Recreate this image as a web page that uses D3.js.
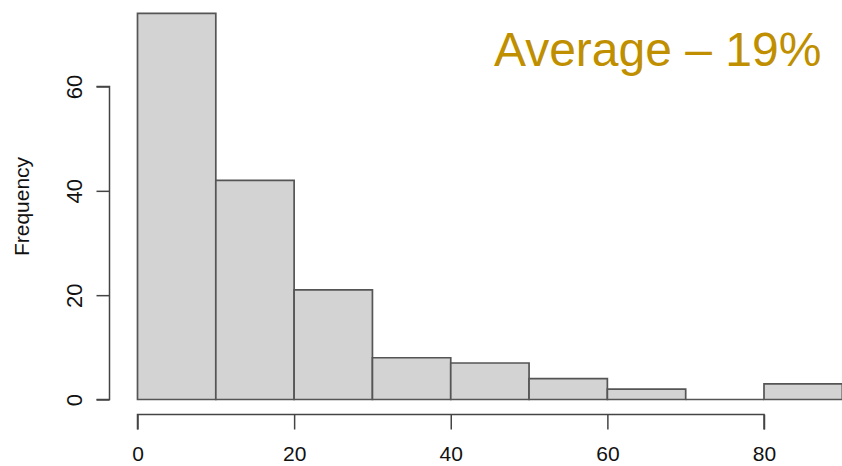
<!DOCTYPE html>
<html>
<head>
<meta charset="utf-8">
<script src="https://cdn.jsdelivr.net/npm/d3@7"></script>
<style>
  html, body { margin: 0; padding: 0; background: #fff; }
  svg { display: block; }
  text { font-family: "Liberation Sans", Arial, Helvetica, sans-serif; }
</style>
</head>
<body>
<svg id="chart" width="842" height="466"></svg>
<script>
// Histogram bins (lower edge, upper edge) and counts
const binStarts = [0, 10, 20, 30, 40, 50, 60, 70, 80];
const binEnds   = [10, 20, 30, 40, 50, 60, 70, 80, 90];
const counts    = [74, 42, 21, 8, 7, 4, 2, 0, 3];
const xTicks = [0, 20, 40, 60, 80];
const yTicks = [0, 20, 40, 60];
const yLabel = "Frequency";
const annotation = "Average \u2013 19%";

const svg = d3.select("#chart");

const x = d3.scaleLinear().domain([0, 80]).range([137.5, 764]);
const y = d3.scaleLinear().domain([0, 60]).range([399.5, 86.5]);

const bins = binStarts.map((s, i) => ({ x0: s, x1: binEnds[i], n: counts[i] }));

// Bars (drawn as closed paths so that empty bins still show their baseline)
svg.append("g")
  .selectAll("path")
  .data(bins)
  .join("path")
  .attr("d", d => `M${x(d.x0)},${y(0)}V${y(d.n)}H${x(d.x1)}V${y(0)}Z`)
  .attr("fill", "#d3d3d3")
  .attr("stroke", "#555")
  .attr("stroke-width", 1.7);

// X axis (R style: offset below plot)
const xAxis = svg.append("g")
  .attr("transform", "translate(0,414.5)")
  .call(d3.axisBottom(x).tickValues(xTicks).tickSize(15).tickPadding(16.5).tickFormat(d3.format("d")));
xAxis.select(".domain").attr("stroke", "#444").attr("stroke-width", 1.5)
  .attr("d", `M${x(0)},15V0H${x(80)}V15`);
xAxis.selectAll(".tick line").attr("stroke", "#444").attr("stroke-width", 1.5);
xAxis.selectAll(".tick text").attr("font-size", 21).attr("fill", "#111")
  .attr("font-family", "'Liberation Sans', Arial, sans-serif");

// Y axis
const yAxis = svg.append("g")
  .attr("transform", "translate(109.5,0)")
  .call(d3.axisLeft(y).tickValues(yTicks).tickSize(13).tickFormat(d3.format("d")));
yAxis.select(".domain").attr("stroke", "#444").attr("stroke-width", 1.5)
  .attr("d", `M-13,${y(60)}H0V${y(0)}H-13`);
yAxis.selectAll(".tick line").attr("stroke", "#444").attr("stroke-width", 1.5);
yAxis.selectAll(".tick text")
  .attr("font-size", 22).attr("fill", "#111")
  .attr("font-family", "'Liberation Sans', Arial, sans-serif")
  .attr("x", null).attr("dy", null)
  .attr("text-anchor", "middle")
  .attr("transform", "translate(-28,0) rotate(-90)");

// Y label
svg.append("text")
  .attr("transform", `translate(29,${(153 + 260) / 2}) rotate(-90)`)
  .attr("text-anchor", "middle")
  .attr("font-size", 21)
  .attr("fill", "#111")
  .text(yLabel);

// Annotation
svg.append("text")
  .attr("x", 494)
  .attr("y", 66)
  .attr("font-size", 48)
  .attr("fill", "#bf8f00")
  .text(annotation);
</script>
</body>
</html>
